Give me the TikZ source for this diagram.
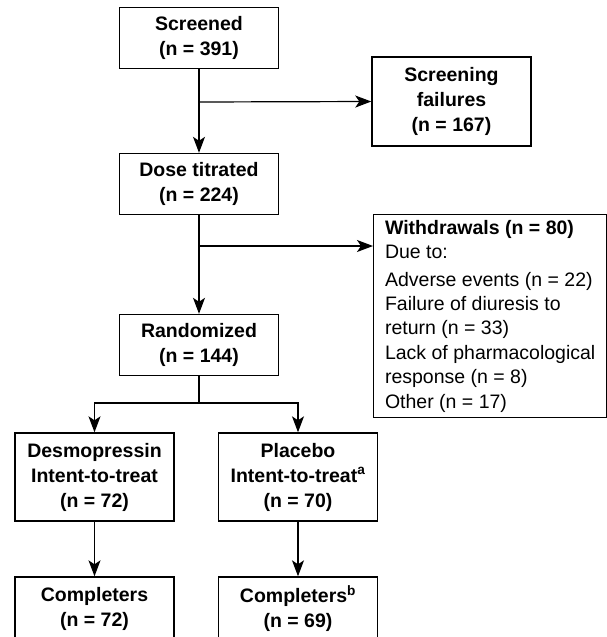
\documentclass[tikz,border=0pt]{standalone}
\usepackage{fontspec}
\setmainfont{Liberation Sans}
\usetikzlibrary{arrows.meta}
\tikzset{
  box/.style={draw,line width=1.4pt,align=center,inner sep=0pt,
    minimum width=159pt,minimum height=61pt,
    font=\fontsize{19.5}{25}\selectfont\bfseries},
  note/.style={draw,line width=1.4pt,align=left,inner sep=0pt,
    minimum width=233pt,minimum height=203pt,anchor=north west,
    font=\fontsize{19.5}{24.4}\selectfont},
  link/.style={line width=1.2pt},
  flow/.style={link,-{Stealth[length=16pt,width=12pt,inset=4pt]}}
}

\begin{document}
\begin{tikzpicture}[x=1pt,y=-1pt]
\useasboundingbox (0,0) rectangle (607,637);
\clip (0,0) rectangle (607,637);
\node[box] (screened) at (199,38) {Screened\\(n = 391)};
\node[box,minimum height=89pt] (fail) at (451.5,101.5) {Screening\\failures\\(n = 167)};
\node[box] (titrated) at (199,184) {Dose titrated\\(n = 224)};
\node[note] (withdraw) at (373,214) {\textbf{Withdrawals (n = 80)}\\Due to:\\[3pt]
  Adverse events (n = 22)\\Failure of diuresis to\\return (n = 33)\\
  Lack of pharmacological\\response (n = 8)\\Other (n = 17)};
\node[box] (random) at (199,345) {Randomized\\(n = 144)};
\node[box,minimum height=88pt] (desmo) at (94.5,477) {Desmopressin\\Intent-to-treat\\(n = 72)};
\node[box,minimum height=88pt] (placebo) at (298,477) {Placebo\\Intent-to-treat\textsuperscript{a}\\(n = 70)};
\node[box,minimum height=63pt] (compD) at (94.5,608.5) {Completers\\(n = 72)};
\node[box,minimum height=63pt] (compP) at (298,608.5) {Completers\textsuperscript{b}\\(n = 69)};
\coordinate (sf) at (199,102);
\coordinate (wd) at (199,246);
\coordinate (split) at (199,403);
\draw[flow] (screened) -- (titrated);
\draw[flow] (sf) -- (fail.west);
\draw[flow] (titrated) -- (random);
\draw[flow] (wd) -- (wd -| withdraw.west);
\draw[link] (random) -- (split);
\draw[flow] (split) -| (desmo);
\draw[flow] (split) -| (placebo);
\draw[flow] (desmo) -- (compD);
\draw[flow] (placebo) -- (compP);
\end{tikzpicture}
\end{document}
